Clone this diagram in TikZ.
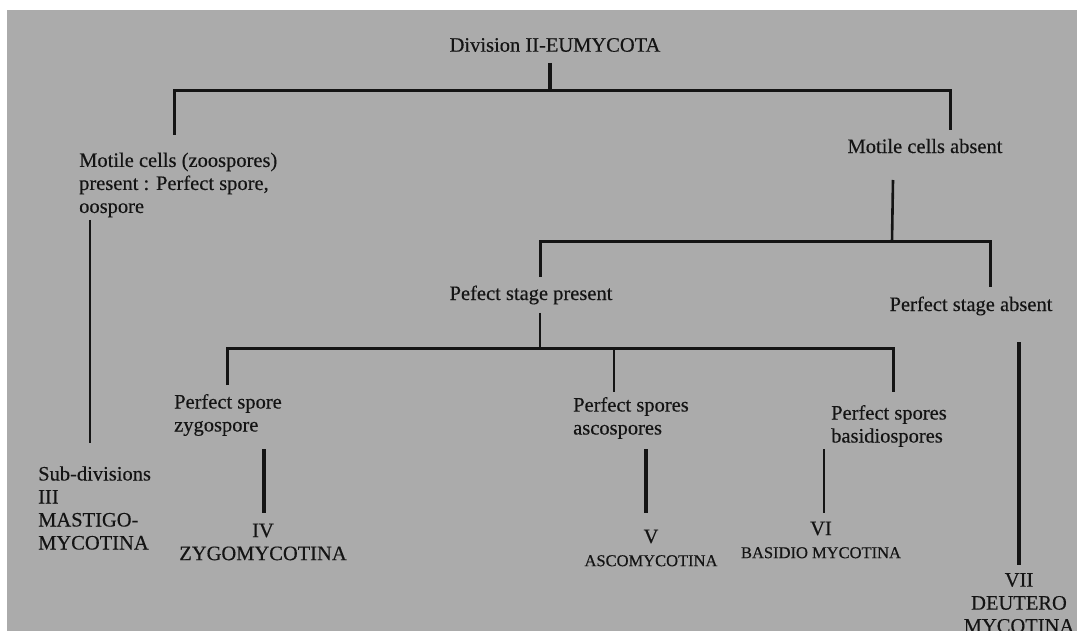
\documentclass[tikz,border=0pt]{standalone}
\usepackage{fontspec}
\setmainfont{Liberation Serif}[FakeBold=0.35]
\begin{document}
\begin{tikzpicture}[x=1pt,y=-1pt]
\tikzset{
  lbl/.style={inner sep=0pt, text=black!92, font=\fontsize{20.5}{23}\selectfont, align=left},
  ctr/.style={lbl, align=center},
  ln/.style={line width=2.6pt, draw=black!92},
  thk/.style={line width=4.5pt, draw=black!92},
}
\definecolor{bggray}{HTML}{ABABAB}
\useasboundingbox (0,0) rectangle (1077,631);
\fill[white] (0,0) rectangle (1077,631);
\fill[bggray] (7,10) rectangle (1077,631);

% nodes
\node[lbl] (title) at (555,45) {Division II-EUMYCOTA};
\node[lbl, anchor=west] (mpres) at (79,185) {Motile cells (zoospores)\\present : Perfect spore,\\oospore};
\node[lbl] (mabs) at (925,146) {Motile cells absent};
\node[lbl] (pspres) at (531,295) {Pefect stage present};
\node[lbl] (psabs) at (971,306) {Perfect stage absent};
\node[lbl, anchor=west] (zygo) at (174,415) {Perfect spore\\zygospore};
\node[lbl, anchor=west] (asco) at (573,418) {Perfect spores\\ascospores};
\node[lbl, anchor=west] (basi) at (831,426) {Perfect spores\\basidiospores};
\node[lbl, anchor=west] (mast) at (38,508) {Sub-divisions\\III\\MASTIGO-\\MYCOTINA};
\node[ctr] (iv) at (263,542) {IV\\ZYGOMYCOTINA};
\node[ctr] (v) at (651,548) {V\\\fontsize{16.5}{20}\selectfont ASCOMYCOTINA};
\node[ctr] (vi) at (821,540) {VI\\\fontsize{16.5}{20}\selectfont BASIDIO MYCOTINA};
\node[ctr] (vii) at (1019,603) {VII\\DEUTERO\\MYCOTINA};

% junction coordinates
\coordinate (t0) at (550,63);
\coordinate (t1) at (550,91);
\coordinate (a0) at (174,135);
\coordinate (a1) at (174,91);
\coordinate (b1) at (950,91);
\coordinate (b0) at (950,130);
\coordinate (m0) at (90,220);
\coordinate (m1) at (90,443);
\coordinate (c0) at (893,180);
\coordinate (c1) at (892,242);
\coordinate (d0) at (540,277);
\coordinate (d1) at (540,242);
\coordinate (e1) at (990,242);
\coordinate (e0) at (990,287);
\coordinate (f0) at (540,313);
\coordinate (f1) at (540,348);
\coordinate (g0) at (227,385);
\coordinate (g1) at (227,348);
\coordinate (h1) at (893,348);
\coordinate (h0) at (893,392);
\coordinate (i1) at (614,348);
\coordinate (i0) at (614,392);
\coordinate (k0) at (264,449);
\coordinate (k1) at (264,513);
\coordinate (l0) at (646,449);
\coordinate (l1) at (646,513);
\coordinate (n0) at (824,449);
\coordinate (n1) at (824,513);
\coordinate (p0) at (1019,342);
\coordinate (p1) at (1019,565);

% connectors
\draw[thk, line width=3.8pt] (t0) -- (t1);
\draw[ln, line width=3pt] (a0) -- (a1) -- (b1) -- (b0);
\draw[ln] (m0) -- (m1);
\draw[ln] (c0) -- (c1);
\draw[ln, line width=3pt] (d0) -- (d1) -- (e1) -- (e0);
\draw[ln] (f0) -- (f1);
\draw[ln, line width=3pt] (g0) -- (g1) -- (h1) -- (h0);
\draw[ln] (i1) -- (i0);
\draw[thk] (k0) -- (k1);
\draw[thk] (l0) -- (l1);
\draw[ln] (n0) -- (n1);
\draw[thk] (p0) -- (p1);
\end{tikzpicture}
\end{document}
